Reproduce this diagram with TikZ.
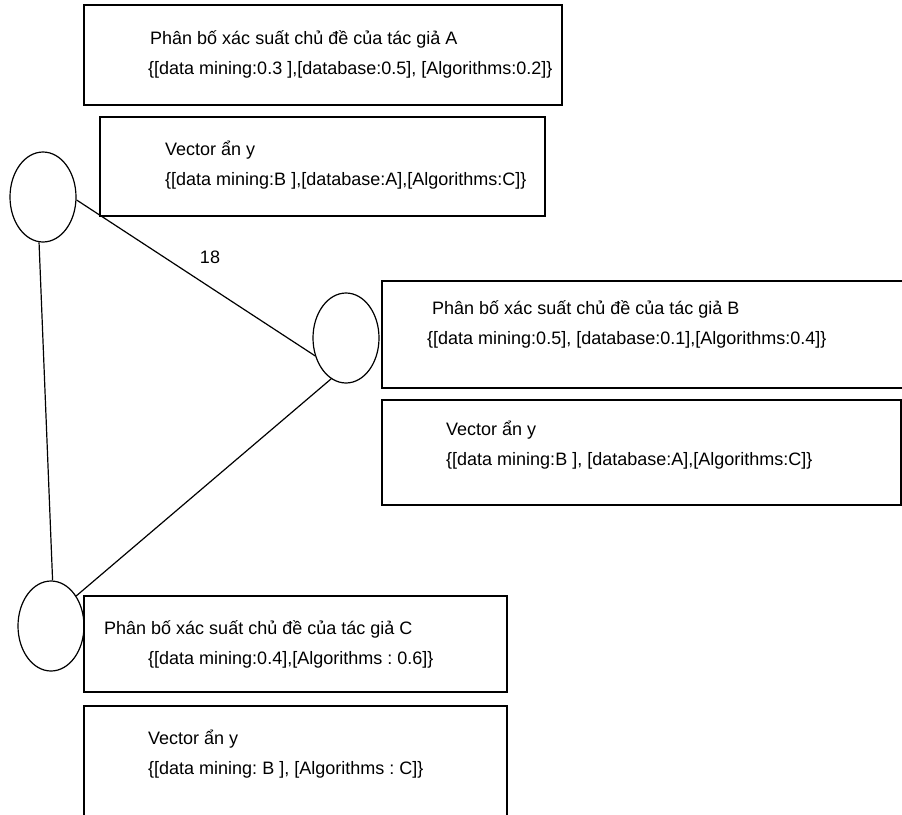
\documentclass[tikz,border=0pt]{standalone}
\usepackage{fontspec}
\setmainfont{Liberation Sans}
\usetikzlibrary{shapes.geometric}
\frenchspacing
\newcommand{\panel}[4]{ \draw[line width=1.2pt] ( #1 , #2 ) rectangle ( #3 , #4 );}
\newcommand{\txtline}[4]{\node[anchor=base west,inner sep=0pt] (#1) at ( #2 , #3 ) {#4};}
\newcommand{\authvertex}[3]{\node[shape=ellipse,draw,line width=1.2pt,minimum width=66pt,minimum height=90pt,inner sep=0pt] (#1) at ( #2 , #3 ) {};}

\begin{document}
\begin{tikzpicture}[x=1pt,y=-1pt,font=\fontsize{18}{22}\selectfont]
\clip (0,0) rectangle (902,814);
% author A boxes
\panel{84}{5}{562}{105}
\panel{100}{117}{545}{216}
\txtline{tA1}{150}{44}{Phân bố xác suất chủ đề của tác giả A}
\txtline{tA2}{148}{74}{\{[data mining:0.3 ],[database:0.5], [Algorithms:0.2]\}}
\txtline{yA1}{165}{155}{Vector ẩn y}
\txtline{yA2}{165}{185}{\{[data mining:B ],[database:A],[Algorithms:C]\}}
% author B boxes
\panel{382}{281}{910}{388}
\panel{382}{400}{901}{505}
\txtline{tB1}{432}{314}{Phân bố xác suất chủ đề của tác giả B}
\txtline{tB2}{427}{344}{\{[data mining:0.5], [database:0.1],[Algorithms:0.4]\}}
\txtline{yB1}{446}{435}{Vector ẩn y}
\txtline{yB2}{446}{465}{\{[data mining:B ], [database:A],[Algorithms:C]\}}
% author C boxes
\panel{84}{596}{507}{692}
\panel{84}{706}{507}{830}
\txtline{tC1}{104}{634}{Phân bố xác suất chủ đề của tác giả C}
\txtline{tC2}{148}{664}{\{[data mining:0.4],[Algorithms : 0.6]\}}
\txtline{yC1}{148}{744}{Vector ẩn y}
\txtline{yC2}{148}{774}{\{[data mining: B ], [Algorithms : C]\}}
% authors
\authvertex{vA}{43}{197}
\authvertex{vB}{346}{338}
\authvertex{vC}{51}{626}
% links
\draw[line width=1.2pt] (vA.-5) -- (vB.210);
\draw[line width=1.2pt] (vB.250) -- (vC.50);
\draw[line width=1.2pt] (vA.265) -- (vC.88);
\node (wAB) at (210,257) {18};
\end{tikzpicture}
\end{document}
